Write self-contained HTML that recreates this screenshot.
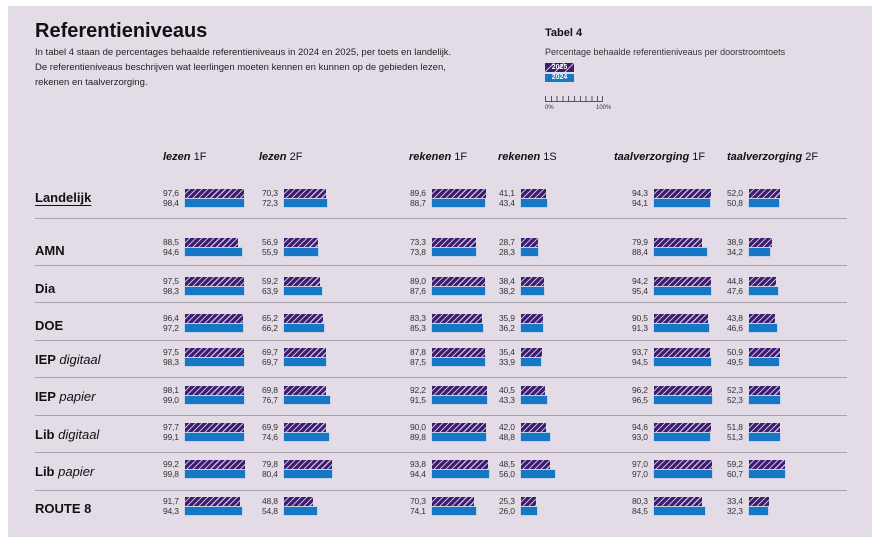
<!DOCTYPE html>
<html><head><meta charset="utf-8"><style>
body{margin:0;width:880px;height:544px;background:#fff;position:relative;overflow:hidden;font-family:"Liberation Sans",sans-serif;color:#222}
.p{position:absolute;left:8px;top:6px;width:864px;height:531px;background:#e3dce7}
.a{position:absolute}
.c{position:absolute;font-size:8.5px;line-height:10px;color:#333}
.r{display:flex;align-items:center;height:10px}
.n{width:22px;letter-spacing:-0.2px}
.h{height:9px;width:calc(var(--v)*0.6px);background:repeating-linear-gradient(135deg,#3c1d6c 0 3px,#c9b6e0 3px 4.2px)}
.b{height:8px;width:calc(var(--v)*0.6px);background:#1677c5;box-shadow:0 0 0 0.5px #9cc6ea}
.hd{position:absolute;top:151px;font-size:11px;color:#111}
.hd b{font-style:italic}
.rl{position:absolute;left:35px;font-size:13px;font-weight:bold;color:#111}
.rl i{font-weight:normal}
.ln{position:absolute;left:35px;width:812px;height:1px;background:#a8a2ad}
</style></head><body>
<div class="p"></div>
<div class="a" style="left:35px;top:20px;font-size:20px;font-weight:bold;color:#111">Referentieniveaus</div>
<div class="a" style="left:35px;top:45px;font-size:9.5px;line-height:15px;color:#222;width:440px">In tabel 4 staan de percentages behaalde referentieniveaus in 2024 en 2025, per toets en landelijk.<br>De referentieniveaus beschrijven wat leerlingen moeten kennen en kunnen op de gebieden lezen,<br>rekenen en taalverzorging.</div>
<div class="a" style="left:545px;top:27px;font-size:11px;font-weight:bold;color:#111">Tabel 4</div>
<div class="a" style="left:545px;top:47px;font-size:9px;color:#333">Percentage behaalde referentieniveaus per doorstroomtoets</div>
<div class="a" style="left:545px;top:63px;width:29px;height:9px;background:repeating-linear-gradient(135deg,#3c1d6c 0 6px,#c9b6e0 6px 7px);color:#fff;font-size:7px;font-weight:bold;line-height:9px;text-align:center">2025</div>
<div class="a" style="left:545px;top:74px;width:29px;height:8px;background:#1677c5;color:#fff;font-size:7px;font-weight:bold;line-height:8px;text-align:center">2024</div>
<div class="a" style="left:545px;top:101px;width:58px;height:1px;background:#555"></div>
<div class="a" style="left:545px;top:96px;width:58px;height:5px;background:repeating-linear-gradient(90deg,#555 0 1px,transparent 1px 5.8px)"></div>
<div class="a" style="left:602px;top:96px;width:1px;height:6px;background:#555"></div>
<div class="a" style="left:545px;top:105px;font-size:6px;color:#333">0%</div>
<div class="a" style="left:596px;top:105px;font-size:6px;color:#333">100%</div>

<div class="hd" style="left:163px"><b>lezen</b> 1F</div>
<div class="hd" style="left:259px"><b>lezen</b> 2F</div>
<div class="hd" style="left:409px"><b>rekenen</b> 1F</div>
<div class="hd" style="left:498px"><b>rekenen</b> 1S</div>
<div class="hd" style="left:614px"><b>taalverzorging</b> 1F</div>
<div class="hd" style="left:727px"><b>taalverzorging</b> 2F</div>

<div class="rl" style="top:190px;text-decoration:underline;text-underline-offset:3px">Landelijk</div>
<div class="rl" style="top:243px">AMN</div>
<div class="rl" style="top:281px">Dia</div>
<div class="rl" style="top:318px">DOE</div>
<div class="rl" style="top:352px">IEP <i>digitaal</i></div>
<div class="rl" style="top:389px">IEP <i>papier</i></div>
<div class="rl" style="top:427px">Lib <i>digitaal</i></div>
<div class="rl" style="top:464px">Lib <i>papier</i></div>
<div class="rl" style="top:501px">ROUTE 8</div>

<div class="ln" style="top:218px"></div>
<div class="ln" style="top:265px"></div>
<div class="ln" style="top:302px"></div>
<div class="ln" style="top:340px"></div>
<div class="ln" style="top:377px"></div>
<div class="ln" style="top:415px"></div>
<div class="ln" style="top:452px"></div>
<div class="ln" style="top:490px"></div>

<!-- Landelijk -->
<div class="c" style="left:163px;top:188px"><div class="r"><span class="n">97,6</span><span class="h" style="--v:97.6"></span></div><div class="r"><span class="n">98,4</span><span class="b" style="--v:98.4"></span></div></div>
<div class="c" style="left:262px;top:188px"><div class="r"><span class="n">70,3</span><span class="h" style="--v:70.3"></span></div><div class="r"><span class="n">72,3</span><span class="b" style="--v:72.3"></span></div></div>
<div class="c" style="left:410px;top:188px"><div class="r"><span class="n">89,6</span><span class="h" style="--v:89.6"></span></div><div class="r"><span class="n">88,7</span><span class="b" style="--v:88.7"></span></div></div>
<div class="c" style="left:499px;top:188px"><div class="r"><span class="n">41,1</span><span class="h" style="--v:41.1"></span></div><div class="r"><span class="n">43,4</span><span class="b" style="--v:43.4"></span></div></div>
<div class="c" style="left:632px;top:188px"><div class="r"><span class="n">94,3</span><span class="h" style="--v:94.3"></span></div><div class="r"><span class="n">94,1</span><span class="b" style="--v:94.1"></span></div></div>
<div class="c" style="left:727px;top:188px"><div class="r"><span class="n">52,0</span><span class="h" style="--v:52.0"></span></div><div class="r"><span class="n">50,8</span><span class="b" style="--v:50.8"></span></div></div>
<!-- AMN -->
<div class="c" style="left:163px;top:237px"><div class="r"><span class="n">88,5</span><span class="h" style="--v:88.5"></span></div><div class="r"><span class="n">94,6</span><span class="b" style="--v:94.6"></span></div></div>
<div class="c" style="left:262px;top:237px"><div class="r"><span class="n">56,9</span><span class="h" style="--v:56.9"></span></div><div class="r"><span class="n">55,9</span><span class="b" style="--v:55.9"></span></div></div>
<div class="c" style="left:410px;top:237px"><div class="r"><span class="n">73,3</span><span class="h" style="--v:73.3"></span></div><div class="r"><span class="n">73,8</span><span class="b" style="--v:73.8"></span></div></div>
<div class="c" style="left:499px;top:237px"><div class="r"><span class="n">28,7</span><span class="h" style="--v:28.7"></span></div><div class="r"><span class="n">28,3</span><span class="b" style="--v:28.3"></span></div></div>
<div class="c" style="left:632px;top:237px"><div class="r"><span class="n">79,9</span><span class="h" style="--v:79.9"></span></div><div class="r"><span class="n">88,4</span><span class="b" style="--v:88.4"></span></div></div>
<div class="c" style="left:727px;top:237px"><div class="r"><span class="n">38,9</span><span class="h" style="--v:38.9"></span></div><div class="r"><span class="n">34,2</span><span class="b" style="--v:34.2"></span></div></div>
<!-- Dia -->
<div class="c" style="left:163px;top:276px"><div class="r"><span class="n">97,5</span><span class="h" style="--v:97.5"></span></div><div class="r"><span class="n">98,3</span><span class="b" style="--v:98.3"></span></div></div>
<div class="c" style="left:262px;top:276px"><div class="r"><span class="n">59,2</span><span class="h" style="--v:59.2"></span></div><div class="r"><span class="n">63,9</span><span class="b" style="--v:63.9"></span></div></div>
<div class="c" style="left:410px;top:276px"><div class="r"><span class="n">89,0</span><span class="h" style="--v:89.0"></span></div><div class="r"><span class="n">87,6</span><span class="b" style="--v:87.6"></span></div></div>
<div class="c" style="left:499px;top:276px"><div class="r"><span class="n">38,4</span><span class="h" style="--v:38.4"></span></div><div class="r"><span class="n">38,2</span><span class="b" style="--v:38.2"></span></div></div>
<div class="c" style="left:632px;top:276px"><div class="r"><span class="n">94,2</span><span class="h" style="--v:94.2"></span></div><div class="r"><span class="n">95,4</span><span class="b" style="--v:95.4"></span></div></div>
<div class="c" style="left:727px;top:276px"><div class="r"><span class="n">44,8</span><span class="h" style="--v:44.8"></span></div><div class="r"><span class="n">47,6</span><span class="b" style="--v:47.6"></span></div></div>
<!-- DOE -->
<div class="c" style="left:163px;top:313px"><div class="r"><span class="n">96,4</span><span class="h" style="--v:96.4"></span></div><div class="r"><span class="n">97,2</span><span class="b" style="--v:97.2"></span></div></div>
<div class="c" style="left:262px;top:313px"><div class="r"><span class="n">65,2</span><span class="h" style="--v:65.2"></span></div><div class="r"><span class="n">66,2</span><span class="b" style="--v:66.2"></span></div></div>
<div class="c" style="left:410px;top:313px"><div class="r"><span class="n">83,3</span><span class="h" style="--v:83.3"></span></div><div class="r"><span class="n">85,3</span><span class="b" style="--v:85.3"></span></div></div>
<div class="c" style="left:499px;top:313px"><div class="r"><span class="n">35,9</span><span class="h" style="--v:35.9"></span></div><div class="r"><span class="n">36,2</span><span class="b" style="--v:36.2"></span></div></div>
<div class="c" style="left:632px;top:313px"><div class="r"><span class="n">90,5</span><span class="h" style="--v:90.5"></span></div><div class="r"><span class="n">91,3</span><span class="b" style="--v:91.3"></span></div></div>
<div class="c" style="left:727px;top:313px"><div class="r"><span class="n">43,8</span><span class="h" style="--v:43.8"></span></div><div class="r"><span class="n">46,6</span><span class="b" style="--v:46.6"></span></div></div>
<!-- IEP digitaal -->
<div class="c" style="left:163px;top:347px"><div class="r"><span class="n">97,5</span><span class="h" style="--v:97.5"></span></div><div class="r"><span class="n">98,3</span><span class="b" style="--v:98.3"></span></div></div>
<div class="c" style="left:262px;top:347px"><div class="r"><span class="n">69,7</span><span class="h" style="--v:69.7"></span></div><div class="r"><span class="n">69,7</span><span class="b" style="--v:69.7"></span></div></div>
<div class="c" style="left:410px;top:347px"><div class="r"><span class="n">87,8</span><span class="h" style="--v:87.8"></span></div><div class="r"><span class="n">87,5</span><span class="b" style="--v:87.5"></span></div></div>
<div class="c" style="left:499px;top:347px"><div class="r"><span class="n">35,4</span><span class="h" style="--v:35.4"></span></div><div class="r"><span class="n">33,9</span><span class="b" style="--v:33.9"></span></div></div>
<div class="c" style="left:632px;top:347px"><div class="r"><span class="n">93,7</span><span class="h" style="--v:93.7"></span></div><div class="r"><span class="n">94,5</span><span class="b" style="--v:94.5"></span></div></div>
<div class="c" style="left:727px;top:347px"><div class="r"><span class="n">50,9</span><span class="h" style="--v:50.9"></span></div><div class="r"><span class="n">49,5</span><span class="b" style="--v:49.5"></span></div></div>
<!-- IEP papier -->
<div class="c" style="left:163px;top:385px"><div class="r"><span class="n">98,1</span><span class="h" style="--v:98.1"></span></div><div class="r"><span class="n">99,0</span><span class="b" style="--v:99.0"></span></div></div>
<div class="c" style="left:262px;top:385px"><div class="r"><span class="n">69,8</span><span class="h" style="--v:69.8"></span></div><div class="r"><span class="n">76,7</span><span class="b" style="--v:76.7"></span></div></div>
<div class="c" style="left:410px;top:385px"><div class="r"><span class="n">92,2</span><span class="h" style="--v:92.2"></span></div><div class="r"><span class="n">91,5</span><span class="b" style="--v:91.5"></span></div></div>
<div class="c" style="left:499px;top:385px"><div class="r"><span class="n">40,5</span><span class="h" style="--v:40.5"></span></div><div class="r"><span class="n">43,3</span><span class="b" style="--v:43.3"></span></div></div>
<div class="c" style="left:632px;top:385px"><div class="r"><span class="n">96,2</span><span class="h" style="--v:96.2"></span></div><div class="r"><span class="n">96,5</span><span class="b" style="--v:96.5"></span></div></div>
<div class="c" style="left:727px;top:385px"><div class="r"><span class="n">52,3</span><span class="h" style="--v:52.3"></span></div><div class="r"><span class="n">52,3</span><span class="b" style="--v:52.3"></span></div></div>
<!-- Lib digitaal -->
<div class="c" style="left:163px;top:422px"><div class="r"><span class="n">97,7</span><span class="h" style="--v:97.7"></span></div><div class="r"><span class="n">99,1</span><span class="b" style="--v:99.1"></span></div></div>
<div class="c" style="left:262px;top:422px"><div class="r"><span class="n">69,9</span><span class="h" style="--v:69.9"></span></div><div class="r"><span class="n">74,6</span><span class="b" style="--v:74.6"></span></div></div>
<div class="c" style="left:410px;top:422px"><div class="r"><span class="n">90,0</span><span class="h" style="--v:90.0"></span></div><div class="r"><span class="n">89,8</span><span class="b" style="--v:89.8"></span></div></div>
<div class="c" style="left:499px;top:422px"><div class="r"><span class="n">42,0</span><span class="h" style="--v:42.0"></span></div><div class="r"><span class="n">48,8</span><span class="b" style="--v:48.8"></span></div></div>
<div class="c" style="left:632px;top:422px"><div class="r"><span class="n">94,6</span><span class="h" style="--v:94.6"></span></div><div class="r"><span class="n">93,0</span><span class="b" style="--v:93.0"></span></div></div>
<div class="c" style="left:727px;top:422px"><div class="r"><span class="n">51,8</span><span class="h" style="--v:51.8"></span></div><div class="r"><span class="n">51,3</span><span class="b" style="--v:51.3"></span></div></div>
<!-- Lib papier -->
<div class="c" style="left:163px;top:459px"><div class="r"><span class="n">99,2</span><span class="h" style="--v:99.2"></span></div><div class="r"><span class="n">99,8</span><span class="b" style="--v:99.8"></span></div></div>
<div class="c" style="left:262px;top:459px"><div class="r"><span class="n">79,8</span><span class="h" style="--v:79.8"></span></div><div class="r"><span class="n">80,4</span><span class="b" style="--v:80.4"></span></div></div>
<div class="c" style="left:410px;top:459px"><div class="r"><span class="n">93,8</span><span class="h" style="--v:93.8"></span></div><div class="r"><span class="n">94,4</span><span class="b" style="--v:94.4"></span></div></div>
<div class="c" style="left:499px;top:459px"><div class="r"><span class="n">48,5</span><span class="h" style="--v:48.5"></span></div><div class="r"><span class="n">56,0</span><span class="b" style="--v:56.0"></span></div></div>
<div class="c" style="left:632px;top:459px"><div class="r"><span class="n">97,0</span><span class="h" style="--v:97.0"></span></div><div class="r"><span class="n">97,0</span><span class="b" style="--v:97.0"></span></div></div>
<div class="c" style="left:727px;top:459px"><div class="r"><span class="n">59,2</span><span class="h" style="--v:59.2"></span></div><div class="r"><span class="n">60,7</span><span class="b" style="--v:60.7"></span></div></div>
<!-- ROUTE 8 -->
<div class="c" style="left:163px;top:496px"><div class="r"><span class="n">91,7</span><span class="h" style="--v:91.7"></span></div><div class="r"><span class="n">94,3</span><span class="b" style="--v:94.3"></span></div></div>
<div class="c" style="left:262px;top:496px"><div class="r"><span class="n">48,8</span><span class="h" style="--v:48.8"></span></div><div class="r"><span class="n">54,8</span><span class="b" style="--v:54.8"></span></div></div>
<div class="c" style="left:410px;top:496px"><div class="r"><span class="n">70,3</span><span class="h" style="--v:70.3"></span></div><div class="r"><span class="n">74,1</span><span class="b" style="--v:74.1"></span></div></div>
<div class="c" style="left:499px;top:496px"><div class="r"><span class="n">25,3</span><span class="h" style="--v:25.3"></span></div><div class="r"><span class="n">26,0</span><span class="b" style="--v:26.0"></span></div></div>
<div class="c" style="left:632px;top:496px"><div class="r"><span class="n">80,3</span><span class="h" style="--v:80.3"></span></div><div class="r"><span class="n">84,5</span><span class="b" style="--v:84.5"></span></div></div>
<div class="c" style="left:727px;top:496px"><div class="r"><span class="n">33,4</span><span class="h" style="--v:33.4"></span></div><div class="r"><span class="n">32,3</span><span class="b" style="--v:32.3"></span></div></div>
</body></html>
